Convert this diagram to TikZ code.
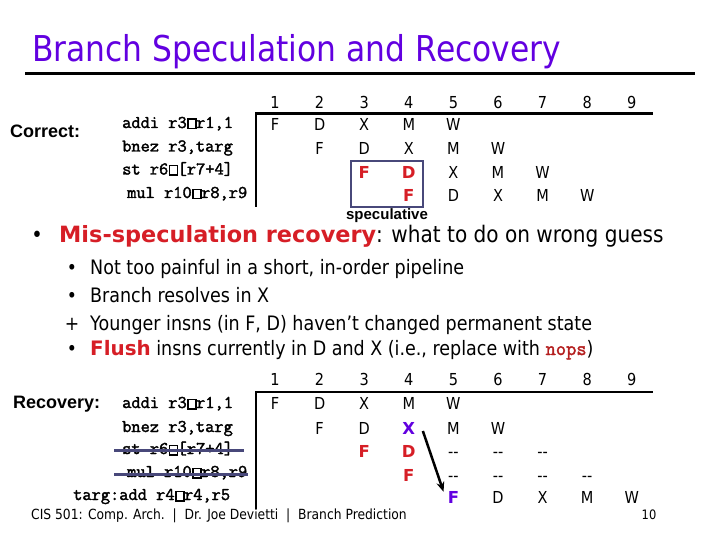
\documentclass[tikz,border=0pt]{standalone}
\usepackage{fontspec}
\setmainfont{DejaVu Sans}
\newfontfamily\tah[FakeStretch=0.88]{DejaVu Sans}
\newfontfamily\tahb{DejaVu Sans}
\newfontfamily\arl{Liberation Sans}
\newfontfamily\cmono[FakeBold=2]{Latin Modern Mono}
\usetikzlibrary{arrows.meta}
\definecolor{ttl}{RGB}{98,0,224}
\definecolor{redc}{RGB}{214,30,38}
\definecolor{slate}{RGB}{72,72,122}
\definecolor{nopc}{RGB}{180,30,30}
\newcommand\glyphbox{\makebox[9.42pt][l]{\hspace{0.5pt}\setlength\fboxsep{0pt}\setlength\fboxrule{1.5pt}\fbox{\rule{0pt}{8pt}\hspace{6.5pt}}}}
\tikzset{
  cell/.style={anchor=base, inner sep=0pt, font=\tah\fontsize{16.5}{18}\selectfont},
  hot/.style={anchor=base, inner sep=0pt, font=\tahb\bfseries\fontsize{16.5}{18}\selectfont, text=redc},
  pur/.style={hot, text=ttl},
  instr/.style={anchor=base west, inner sep=0pt, font=\cmono\fontsize{17.9}{20}\selectfont},
  lbl/.style={anchor=base west, inner sep=0pt, font=\arl\bfseries\fontsize{18}{20}\selectfont},
  bar/.style={line width=2.5pt},
  strike/.style={slate, line width=3pt},
  sub/.style={anchor=base west, inner sep=0pt, font=\tah\fontsize{19.9}{22}\selectfont},
  dot/.style={anchor=base, inner sep=0pt, font=\tah\fontsize{19.5}{22}\selectfont},
}
\begin{document}
\begin{tikzpicture}[x=1pt,y=-1pt]
\useasboundingbox (0,0) rectangle (720,540);
% title
\node[anchor=base west, inner sep=0pt, text=ttl, font=\tah\fontsize{35.6}{40}\selectfont] (title) at (32,62) {Branch Speculation and Recovery};
\coordinate (tl) at (25,73.5);
\coordinate (tr) at (695,73.5);
\draw[line width=3pt] (tl) -- (tr);

% ---------- top table ----------
\node[lbl] (correct) at (10,138) {Correct:};
\node[instr] (ti1) at (122,128) {addi r3\glyphbox r1,1};
\node[instr] (ti2) at (122,151.5) {bnez r3,targ};
\node[instr] (ti3) at (122,174.5) {st r6\glyphbox[r7+4]};
\node[instr] (ti4) at (127,198) {mul r10\glyphbox r8,r9};
\foreach \c in {1,...,9} \node[cell] (tn\c) at ({275+(\c-1)*44.6},108.3) {\c};
\coordinate (th0) at (255,113.5);
\coordinate (th1) at (653,113.5);
\coordinate (tv1) at (256,207);
\draw[bar] (th0) -- (th1);
\draw[bar] (256,113.5) -- (tv1);
\foreach \l/\c in {F/1,D/2,X/3,M/4,W/5} \node[cell] (ta\c) at ({275+(\c-1)*44.6},130.7) {\l};
\foreach \l/\c in {F/2,D/3,X/4,M/5,W/6} \node[cell] (tb\c) at ({275+(\c-1)*44.6},154.5) {\l};
\foreach \l/\c in {X/5,M/6,W/7} \node[cell] (tc\c) at ({275+(\c-1)*44.6},179) {\l};
\node[hot] (tc3) at (364.2,179) {F};
\node[hot] (tc4) at (408.8,179) {D};
\foreach \l/\c in {D/5,X/6,M/7,W/8} \node[cell] (td\c) at ({275+(\c-1)*44.6},201.7) {\l};
\node[hot] (td4) at (408.8,201.7) {F};
\node[draw=slate, line width=1.5pt, minimum width=72pt, minimum height=46pt, inner sep=0pt] (specbox) at (387,184) {};
\node[anchor=base, inner sep=0pt, font=\arl\bfseries\fontsize{15}{16}\selectfont] (spec) at (387,219) {speculative};

% ---------- bullets ----------
\node[anchor=base, inner sep=0pt, font=\tah\fontsize{22}{24}\selectfont] (b0) at (37,242) {•};
\node[anchor=base west, inner sep=0pt, font=\tah\fontsize{22.8}{24}\selectfont] (main) at (59,242) {{\tahb\bfseries\fontsize{22.4}{24}\selectfont\color{redc}Mis-speculation recovery}: what to do on wrong guess};
\node[dot] (d1) at (72,274) {•};
\node[sub] (s1) at (90,274) {Not too painful in a short, in-order pipeline};
\node[dot] (d2) at (72,302) {•};
\node[sub] (s2) at (90,302) {Branch resolves in X};
\node[dot] (d3) at (72,330) {+};
\node[sub] (s3) at (90,330) {Younger insns (in F, D) haven’t changed permanent state};
\node[dot] (d4) at (72,355) {•};
\node[sub] (s4) at (90,355) {{\tahb\bfseries\color{redc}Flush} insns currently in D and X (i.e., replace with {\cmono\color{nopc}nops})};

% ---------- bottom table ----------
\node[lbl] (recov) at (13,408) {Recovery:};
\node[instr] (bi1) at (122,408) {addi r3\glyphbox r1,1};
\node[instr] (bi2) at (122,432) {bnez r3,targ};
\node[instr] (bi3) at (122,454) {st r6\glyphbox[r7+4]};
\node[instr] (bi4) at (127,477) {mul r10\glyphbox r8,r9};
\node[instr] (bi5) at (73,500) {targ:add r4\glyphbox r4,r5};
\draw[strike] ([xshift=-8pt,yshift=4pt]bi3.base west) -- ([xshift=11pt,yshift=4pt]bi3.base east);
\draw[strike] ([xshift=-13pt,yshift=3pt]bi4.base west) -- ([xshift=1pt,yshift=3pt]bi4.base east);
\foreach \c in {1,...,9} \node[cell] (bn\c) at ({275+(\c-1)*44.6},385) {\c};
\coordinate (bh0) at (255,392);
\coordinate (bh1) at (653,392);
\coordinate (bv1) at (256,509);
\draw[bar] (bh0) -- (bh1);
\draw[bar] (256,392) -- (bv1);
\foreach \l/\c in {F/1,D/2,X/3,M/4,W/5} \node[cell] (ba\c) at ({275+(\c-1)*44.6},409) {\l};
\foreach \l/\c in {F/2,D/3,M/5,W/6} \node[cell] (bb\c) at ({275+(\c-1)*44.6},434) {\l};
\node[pur] (bb4) at (408.8,434) {X};
\node[hot] (bc3) at (364.2,457) {F};
\node[hot] (bc4) at (408.8,457) {D};
\foreach \c in {5,6,7} \node[cell] (bc\c) at ({275+(\c-1)*44.6},457) {-{}-};
\node[hot] (bd4) at (408.8,481) {F};
\foreach \c in {5,6,7,8} \node[cell] (bd\c) at ({275+(\c-1)*44.6},481) {-{}-};
\node[pur] (be5) at (453.4,503) {F};
\foreach \l/\c in {D/6,X/7,M/8,W/9} \node[cell] (be\c) at ({275+(\c-1)*44.6},503) {\l};
\draw[line width=2.5pt, -{Stealth[length=10pt,width=8pt]}] ([xshift=7.5pt,yshift=-3pt]bb4.east) -- ([xshift=-4pt,yshift=-1pt]be5.north west);

% ---------- footer ----------
\node[anchor=base west, inner sep=0pt, font=\tah\fontsize{14}{16}\selectfont] (foot) at (31,519) {CIS 501: Comp. Arch.\ \ |\ \ Dr. Joe Devietti\ \ |\ \ Branch Prediction};
\node[anchor=base, inner sep=0pt, font=\tah\fontsize{13}{16}\selectfont] (pg) at (649,519) {10};
\end{tikzpicture}
\end{document}
